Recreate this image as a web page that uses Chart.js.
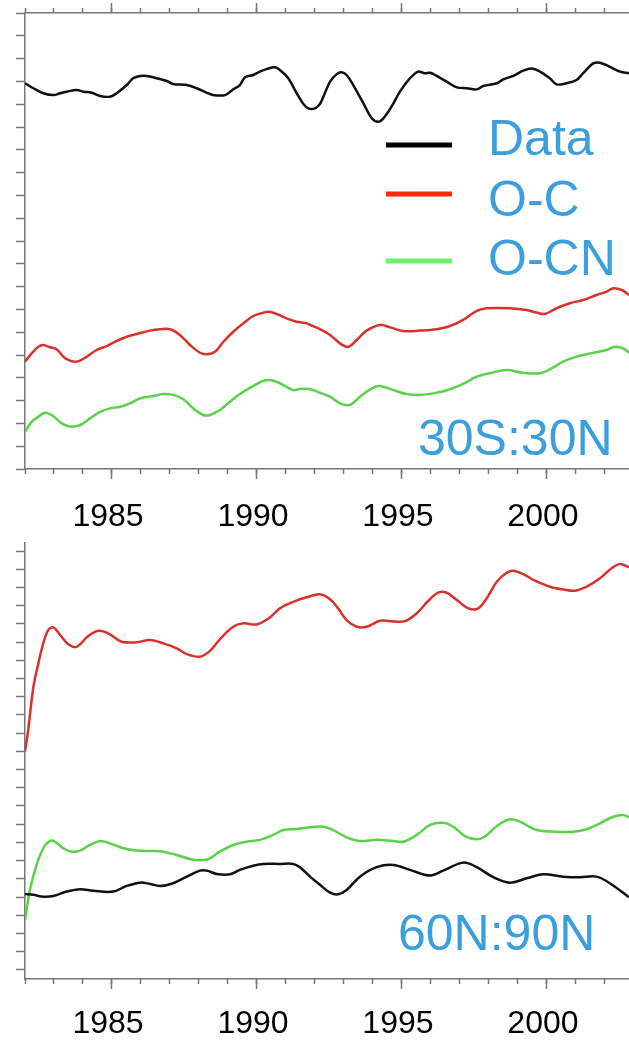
<!DOCTYPE html>
<html>
<head>
<meta charset="utf-8">
<script src="https://cdn.jsdelivr.net/npm/chart.js@4.4.1/dist/chart.umd.min.js"></script>
<style>
  html, body { margin: 0; padding: 0; background: #fff; width: 629px; height: 1044px; overflow: hidden; }
  .panel { position: absolute; left: 0; width: 629px; }
  #panelTop { top: 0; height: 530px; }
  #panelBottom { top: 530px; height: 514px; }
  canvas { display: block; }
</style>
</head>
<body>
<div class="panel" id="panelTop"><canvas id="chartTop" width="629" height="530"></canvas></div>
<div class="panel" id="panelBottom"><canvas id="chartBottom" width="629" height="514"></canvas></div>
<script>
// ---- series: [year, anomaly] ----
// 30S:30N
const tropicsData = [[1982.00,1.692],[1982.29,1.670],[1982.63,1.648],[1982.98,1.640],[1983.21,1.648],[1983.44,1.655],[1983.78,1.662],[1984.01,1.655],[1984.30,1.650],[1984.59,1.636],[1984.93,1.633],[1985.16,1.648],[1985.51,1.684],[1985.73,1.714],[1985.97,1.724],[1986.20,1.724],[1986.54,1.714],[1986.89,1.702],[1987.11,1.689],[1987.58,1.684],[1987.92,1.670],[1988.27,1.650],[1988.49,1.640],[1988.90,1.640],[1989.18,1.665],[1989.41,1.684],[1989.59,1.718],[1989.87,1.728],[1990.10,1.743],[1990.33,1.754],[1990.62,1.762],[1990.79,1.750],[1991.08,1.714],[1991.37,1.648],[1991.60,1.601],[1991.77,1.582],[1992.00,1.582],[1992.17,1.601],[1992.29,1.633],[1992.52,1.699],[1992.75,1.732],[1992.92,1.740],[1993.09,1.728],[1993.32,1.684],[1993.67,1.604],[1993.96,1.538],[1994.18,1.523],[1994.36,1.538],[1994.64,1.589],[1994.93,1.655],[1995.28,1.714],[1995.56,1.743],[1995.79,1.736],[1995.97,1.738],[1996.20,1.724],[1996.54,1.699],[1996.89,1.674],[1997.23,1.670],[1997.58,1.665],[1997.80,1.680],[1998.27,1.692],[1998.49,1.709],[1998.84,1.724],[1999.18,1.747],[1999.47,1.757],[1999.76,1.743],[2000.10,1.714],[2000.33,1.687],[2000.68,1.692],[2001.02,1.706],[2001.25,1.736],[2001.60,1.779],[2001.83,1.782],[2002.17,1.764],[2002.52,1.743],[2002.83,1.736]];
const tropicsOC = [[1982.00,0.471],[1982.23,0.507],[1982.46,0.536],[1982.63,0.544],[1982.86,0.534],[1983.09,0.525],[1983.38,0.486],[1983.78,0.471],[1984.13,0.493],[1984.47,0.522],[1984.82,0.539],[1985.10,0.558],[1985.51,0.580],[1985.85,0.592],[1986.31,0.607],[1986.66,0.613],[1987.00,0.613],[1987.34,0.588],[1987.69,0.544],[1988.03,0.510],[1988.27,0.503],[1988.55,0.514],[1988.84,0.558],[1989.18,0.602],[1989.53,0.639],[1989.87,0.671],[1990.22,0.686],[1990.45,0.689],[1990.68,0.680],[1991.02,0.661],[1991.37,0.646],[1991.71,0.639],[1991.83,0.632],[1992.17,0.613],[1992.52,0.588],[1992.86,0.551],[1993.15,0.536],[1993.44,0.566],[1993.78,0.607],[1994.24,0.632],[1994.59,0.621],[1995.04,0.605],[1995.62,0.607],[1996.20,0.613],[1996.66,0.627],[1997.11,0.654],[1997.58,0.694],[1997.92,0.705],[1998.72,0.705],[1999.30,0.697],[1999.64,0.686],[1999.93,0.680],[2000.33,0.705],[2000.79,0.727],[2001.25,0.741],[2001.71,0.763],[2002.06,0.778],[2002.29,0.793],[2002.58,0.785],[2002.83,0.763]];
const tropicsOCN = [[1982.00,0.164],[1982.23,0.207],[1982.46,0.229],[1982.69,0.247],[1982.92,0.237],[1983.27,0.200],[1983.55,0.186],[1983.90,0.193],[1984.24,0.222],[1984.59,0.251],[1984.93,0.266],[1985.28,0.273],[1985.62,0.288],[1985.97,0.310],[1986.42,0.320],[1986.77,0.329],[1987.11,0.325],[1987.46,0.306],[1987.80,0.266],[1988.15,0.237],[1988.38,0.237],[1988.72,0.259],[1989.07,0.295],[1989.41,0.329],[1989.87,0.364],[1990.22,0.387],[1990.45,0.390],[1990.79,0.376],[1991.25,0.346],[1991.48,0.351],[1991.83,0.350],[1992.17,0.335],[1992.52,0.317],[1992.86,0.288],[1993.21,0.281],[1993.55,0.317],[1993.96,0.354],[1994.24,0.364],[1994.70,0.346],[1995.16,0.329],[1995.62,0.325],[1996.20,0.335],[1996.66,0.350],[1997.11,0.373],[1997.58,0.405],[1998.03,0.420],[1998.61,0.434],[1999.18,0.422],[1999.76,0.420],[2000.10,0.437],[2000.56,0.471],[2001.02,0.493],[2001.60,0.510],[2002.06,0.522],[2002.34,0.536],[2002.63,0.529],[2002.83,0.510]];

// 60N:90N
const arcticData = [[1982.00,0.417],[1982.29,0.412],[1982.63,0.402],[1982.98,0.406],[1983.44,0.430],[1983.90,0.443],[1984.36,0.434],[1985.04,0.430],[1985.51,0.461],[1985.97,0.479],[1986.31,0.472],[1986.66,0.461],[1987.11,0.476],[1987.58,0.512],[1988.03,0.545],[1988.27,0.545],[1988.61,0.527],[1989.07,0.525],[1989.41,0.549],[1989.87,0.572],[1990.22,0.582],[1990.79,0.582],[1991.25,0.582],[1991.48,0.564],[1991.83,0.512],[1992.17,0.467],[1992.52,0.424],[1992.80,0.415],[1993.09,0.439],[1993.55,0.512],[1994.13,0.564],[1994.70,0.576],[1995.28,0.549],[1995.97,0.518],[1996.42,0.545],[1997.11,0.589],[1997.58,0.564],[1998.15,0.509],[1998.72,0.479],[1999.30,0.503],[1999.87,0.525],[2000.56,0.512],[2001.14,0.509],[2001.71,0.512],[2002.17,0.476],[2002.83,0.399]];
const arcticOC = [[1982.00,1.198],[1982.11,1.317],[1982.29,1.555],[1982.46,1.683],[1982.63,1.793],[1982.80,1.866],[1982.98,1.881],[1983.21,1.839],[1983.49,1.788],[1983.78,1.774],[1984.18,1.833],[1984.53,1.862],[1984.87,1.848],[1985.33,1.802],[1985.85,1.799],[1986.31,1.811],[1986.77,1.793],[1987.23,1.766],[1987.58,1.734],[1988.03,1.720],[1988.38,1.752],[1988.78,1.826],[1989.18,1.884],[1989.53,1.903],[1989.99,1.897],[1990.45,1.936],[1990.79,1.985],[1991.25,2.021],[1991.71,2.046],[1992.17,2.062],[1992.52,2.035],[1992.80,1.985],[1993.09,1.921],[1993.44,1.884],[1993.78,1.884],[1994.24,1.917],[1994.59,1.915],[1995.10,1.915],[1995.51,1.958],[1995.91,2.027],[1996.25,2.071],[1996.54,2.071],[1996.89,2.031],[1997.29,1.985],[1997.63,1.985],[1997.92,2.040],[1998.27,2.131],[1998.61,2.181],[1998.84,2.192],[1999.18,2.173],[1999.59,2.137],[2000.10,2.104],[2000.56,2.089],[2000.97,2.082],[2001.37,2.104],[2001.83,2.150],[2002.23,2.205],[2002.52,2.228],[2002.83,2.210]];
const arcticOCN = [[1982.00,0.274],[1982.17,0.439],[1982.40,0.576],[1982.63,0.668],[1982.86,0.708],[1983.03,0.704],[1983.32,0.668],[1983.61,0.649],[1983.90,0.655],[1984.24,0.686],[1984.59,0.708],[1984.93,0.695],[1985.39,0.668],[1985.85,0.655],[1986.31,0.653],[1986.77,0.649],[1987.23,0.631],[1987.69,0.609],[1988.03,0.602],[1988.32,0.608],[1988.72,0.649],[1989.18,0.686],[1989.64,0.704],[1990.10,0.714],[1990.56,0.741],[1990.91,0.768],[1991.37,0.774],[1991.83,0.783],[1992.29,0.786],[1992.63,0.768],[1993.09,0.728],[1993.55,0.708],[1994.13,0.714],[1994.70,0.708],[1995.04,0.704],[1995.51,0.741],[1995.97,0.796],[1996.42,0.808],[1996.77,0.786],[1997.17,0.735],[1997.58,0.717],[1997.86,0.732],[1998.27,0.790],[1998.72,0.827],[1999.07,0.814],[1999.64,0.768],[2000.33,0.759],[2000.91,0.759],[2001.37,0.772],[2001.83,0.805],[2002.29,0.841],[2002.63,0.851],[2002.83,0.838]];

// ---- axes & labels ----
const seriesNames = ['Data', 'O-C', 'O-CN'];
const regionNames = ['30S:30N', '60N:90N'];
const majorYears = [1985, 1990, 1995, 2000];
const minorYears = [1982, 1983, 1984, 1985, 1986, 1987, 1988, 1989, 1990, 1991, 1992, 1993, 1994, 1995, 1996, 1997, 1998, 1999, 2000, 2001, 2002];
const yearMin = 1982;
const yearMax = 2002.83;
const topRange = [0, 2.0];
const bottomRange = [-0.05, 2.344];
const yStep = 0.1;

// ---- styling ----
const FONT = "'Liberation Sans', Arial, Helvetica, sans-serif";
const AXIS_GRAY = '#777777';
const LABEL_BLUE = '#3a9fdc';
const lineColors = ['#111111', '#d9322d', '#5ad24a'];
const swatchColors = ['#000000', '#ff2a08', '#6ef26e'];

const toXY = arr => arr.map(p => ({ x: p[0], y: p[1] }));

function dataset(label, points, color) {
  return {
    label, data: toXY(points), borderColor: color, borderWidth: 2.5,
    pointRadius: 0, tension: 0.35, fill: false, xAxisID: 'x', yAxisID: 'y'
  };
}

function tickGrid(len) {
  return { drawOnChartArea: false, drawTicks: true, tickLength: len, color: AXIS_GRAY, tickColor: AXIS_GRAY, tickWidth: 1.5 };
}

function buildScales(withTopAxis, range, bottomHeight, labelPad) {
  const scales = {
    x: {
      type: 'linear', position: 'bottom', min: yearMin, max: yearMax, weight: 1,
      afterBuildTicks: s => { s.ticks = majorYears.map(v => ({ value: v })); },
      afterFit: s => { s.height = bottomHeight; },
      grid: tickGrid(10),
      border: { display: true, color: AXIS_GRAY, width: 1.5 },
      ticks: {
        display: true, autoSkip: false, maxRotation: 0, padding: labelPad, labelOffset: -4,
        color: '#000', font: { family: FONT, size: 32 }, callback: v => String(v)
      }
    },
    xMinor: {
      type: 'linear', position: 'bottom', min: yearMin, max: yearMax, weight: 0,
      afterBuildTicks: s => { s.ticks = minorYears.map(v => ({ value: v })); },
      afterFit: s => { s.height = 0; },
      grid: tickGrid(5), border: { display: false }, ticks: { display: false }
    },
    y: {
      type: 'linear', position: 'left', min: range[0], max: range[1],
      afterFit: s => { s.width = 25; },
      grid: tickGrid(9),
      border: { display: true, color: AXIS_GRAY, width: 1.5 },
      ticks: { display: false, stepSize: yStep, includeBounds: false }
    }
  };
  if (withTopAxis) {
    scales.xTop = {
      type: 'linear', position: 'top', min: yearMin, max: yearMax, weight: 1,
      afterBuildTicks: s => { s.ticks = majorYears.map(v => ({ value: v })); },
      afterFit: s => { s.height = 13; },
      grid: tickGrid(10),
      border: { display: true, color: AXIS_GRAY, width: 1.5 },
      ticks: { display: false }
    };
    scales.xTopMinor = {
      type: 'linear', position: 'top', min: yearMin, max: yearMax, weight: 0,
      afterBuildTicks: s => { s.ticks = minorYears.map(v => ({ value: v })); },
      afterFit: s => { s.height = 0; },
      grid: tickGrid(5), border: { display: false }, ticks: { display: false }
    };
  }
  return scales;
}

// Legend entries and region captions drawn over the plot area
const panelText = {
  id: 'panelText',
  afterDatasetsDraw(chart, args, opts) {
    const ctx = chart.ctx;
    ctx.save();
    ctx.font = `${opts.size}px ${FONT}`;
    ctx.textAlign = 'left';
    ctx.textBaseline = 'alphabetic';
    (opts.legend || []).forEach(item => {
      ctx.fillStyle = item.color;
      ctx.fillRect(item.x0, item.yLine - 2.5, item.x1 - item.x0, 5);
      ctx.fillStyle = LABEL_BLUE;
      ctx.fillText(item.text, item.xText, item.yText);
    });
    (opts.captions || []).forEach(c => {
      ctx.fillStyle = LABEL_BLUE;
      ctx.fillText(c.text, c.x, c.y);
    });
    ctx.restore();
  }
};

function makeChart(canvasId, sets, cfg) {
  return new Chart(document.getElementById(canvasId), {
    type: 'line',
    data: {
      datasets: [
        dataset(seriesNames[0], sets[0], lineColors[0]),
        dataset(seriesNames[1], sets[1], lineColors[1]),
        dataset(seriesNames[2], sets[2], lineColors[2])
      ]
    },
    options: {
      responsive: false, animation: false, devicePixelRatio: 1, events: [],
      layout: { padding: { top: cfg.padTop, left: 0, right: 0, bottom: 0 } },
      scales: buildScales(cfg.topAxis, cfg.range, cfg.bottomHeight, cfg.labelPad),
      plugins: {
        legend: { display: false }, tooltip: { enabled: false },
        panelText: { size: 50, legend: cfg.legend, captions: cfg.captions }
      }
    },
    plugins: [panelText]
  });
}

const legendLineY = [145, 194, 261];
const legendTextY = [155, 216, 275];

makeChart('chartTop', [tropicsData, tropicsOC, tropicsOCN], {
  topAxis: true, range: topRange, padTop: 0, bottomHeight: 61, labelPad: 19,
  legend: seriesNames.map((name, i) => ({
    text: name, color: swatchColors[i], x0: 386, x1: 452, yLine: legendLineY[i], xText: 488, yText: legendTextY[i]
  })),
  captions: [{ text: regionNames[0], x: 418, y: 455 }]
});

makeChart('chartBottom', [arcticData, arcticOC, arcticOCN], {
  topAxis: false, range: bottomRange, padTop: 13, bottomHeight: 65, labelPad: 16,
  legend: [],
  captions: [{ text: regionNames[1], x: 398, y: 420 }]
});
</script>
</body>
</html>
